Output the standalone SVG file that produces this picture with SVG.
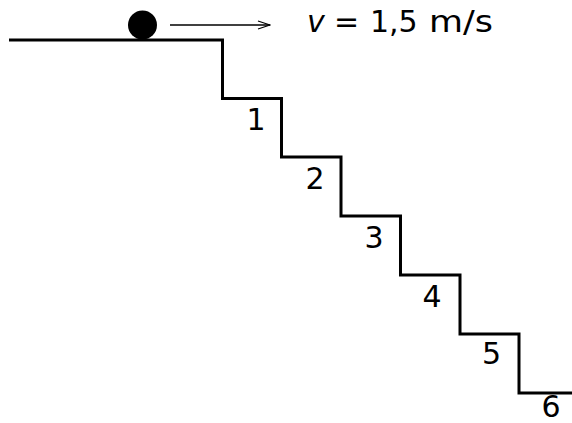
<svg xmlns="http://www.w3.org/2000/svg" width="572" height="423" viewBox="0 0 572 423">
<style>
.t{font-family:"DejaVu Sans",Verdana,sans-serif;font-size:30px;fill:#000}
.n{text-anchor:middle}
.s{fill:none;stroke:#000;stroke-width:3}
</style>
<defs>
<marker id="ah" markerWidth="14" markerHeight="10" refX="13" refY="5" orient="auto" markerUnits="userSpaceOnUse">
<path d="M1,1 L13,5 L1,9" fill="none" stroke="#000" stroke-width="1.3"/>
</marker>
</defs>
<rect width="572" height="423" fill="#fff"/>
<g id="stairs">
<path class="s" d="M9,40 H222.5 V98.5 H281.5 V157 H341 V216 H400.5 V275 H460 V334 H519 V393 H572"/>
</g>
<g id="ball">
<circle cx="142.5" cy="25" r="14.5" fill="#000"/>
</g>
<g id="connectors">
<line x1="170" y1="25" x2="270" y2="25" stroke="#000" stroke-width="1.5" marker-end="url(#ah)"/>
</g>
<g id="label-v">
<text class="t" y="32"><tspan x="307" font-style="italic">v</tspan><tspan x="334">=</tspan><tspan x="370">1,5</tspan><tspan x="429" textLength="64" lengthAdjust="spacingAndGlyphs">m/s</tspan></text>
</g>
<g id="labels">
<text class="t n" x="256" y="130">1</text>
<text class="t n" x="315" y="189">2</text>
<text class="t n" x="374" y="248">3</text>
<text class="t n" x="432" y="307">4</text>
<text class="t n" x="491.5" y="364">5</text>
<text class="t n" x="551" y="417" font-size="28">6</text>
</g>
</svg>
